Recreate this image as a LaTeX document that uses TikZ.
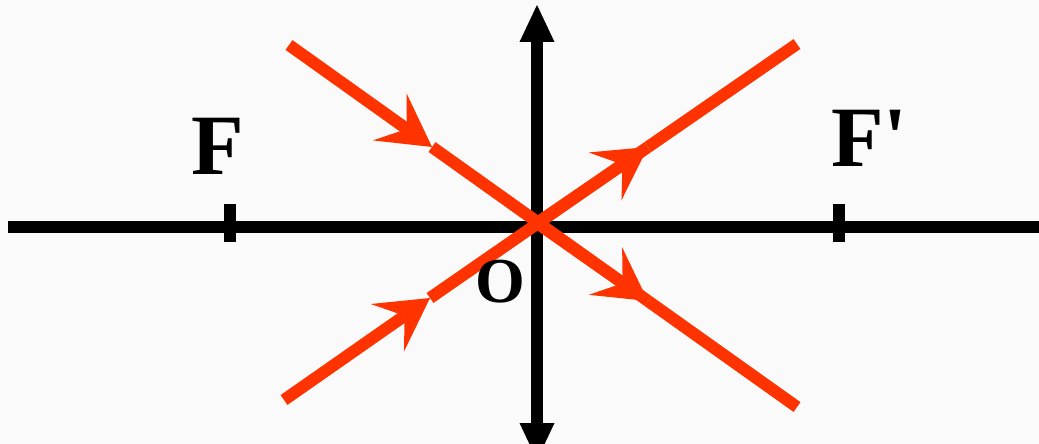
\documentclass[tikz,border=0pt]{standalone}
\usepackage{fontspec}
\setmainfont{Liberation Serif}
\newfontfamily\lblfont{Liberation Serif}[Mapping=,Ligatures=ResetAll]
\usetikzlibrary{arrows.meta}
\definecolor{ray}{RGB}{255,51,0}
\definecolor{bg}{RGB}{250,250,250}
\tikzset{
  axisline/.style={line width=12pt, black},
  rayline/.style={line width=12pt, ray},
  raytip/.style={-{Stealth[length=52pt,width=58pt,inset=21pt,line width=0pt]}},
  lbl/.style={inner sep=0pt, text=black},
}
\begin{document}
\begin{tikzpicture}[x=1pt,y=-1pt]
\fill[bg] (0,0) rectangle (1039,444);
\useasboundingbox (0,0) rectangle (1039,444);
\clip (0,0) rectangle (1039,444);
% coordinates
\coordinate (axL) at (8,227);
\coordinate (axR) at (1050,227);
\coordinate (vT) at (537,5);
\coordinate (vB) at (537,460);
\coordinate (O) at (537,223);
\coordinate (S1) at (289,45);
\coordinate (A) at (432,147);
\coordinate (B) at (648,301);
\coordinate (E1) at (797,407);
\coordinate (S2) at (284,400);
\coordinate (C) at (430,298);
\coordinate (D) at (648,147);
\coordinate (E2) at (797,44);
\coordinate (fT) at (230,204);
\coordinate (fB) at (230,242);
\coordinate (gT) at (839,204);
\coordinate (gB) at (839,242);
% axis
\draw[axisline] (axL) -- (axR);
\draw[axisline] (fT) -- (fB);
\draw[axisline] (gT) -- (gB);
% lens
\draw[axisline, {Triangle[length=37pt,width=35pt,line width=0pt]}-{Triangle[length=37pt,width=35pt,line width=0pt]}] (vB) -- (vT);
% rays
\draw[rayline, raytip] (S1) -- (A);
\draw[rayline] (A) -- (B);
\draw[rayline, raytip] (O) -- (B);
\draw[rayline] (B) -- (E1);
\draw[rayline, raytip] (S2) -- (C);
\draw[rayline] (C) -- (D);
\draw[rayline, raytip] (O) -- (D);
\draw[rayline] (D) -- (E2);
% labels
\node[lbl, font=\lblfont\fontsize{86}{86}\selectfont\bfseries, anchor=base] (F) at (218,174) {F};
\node[lbl, font=\lblfont\fontsize{86}{86}\selectfont\bfseries, anchor=base west] (Fp) at (831,166) {F'};
\node[lbl, font=\lblfont\fontsize{64}{64}\selectfont\bfseries, anchor=base] (Olbl) at (500,302) {O};
\end{tikzpicture}
\end{document}
